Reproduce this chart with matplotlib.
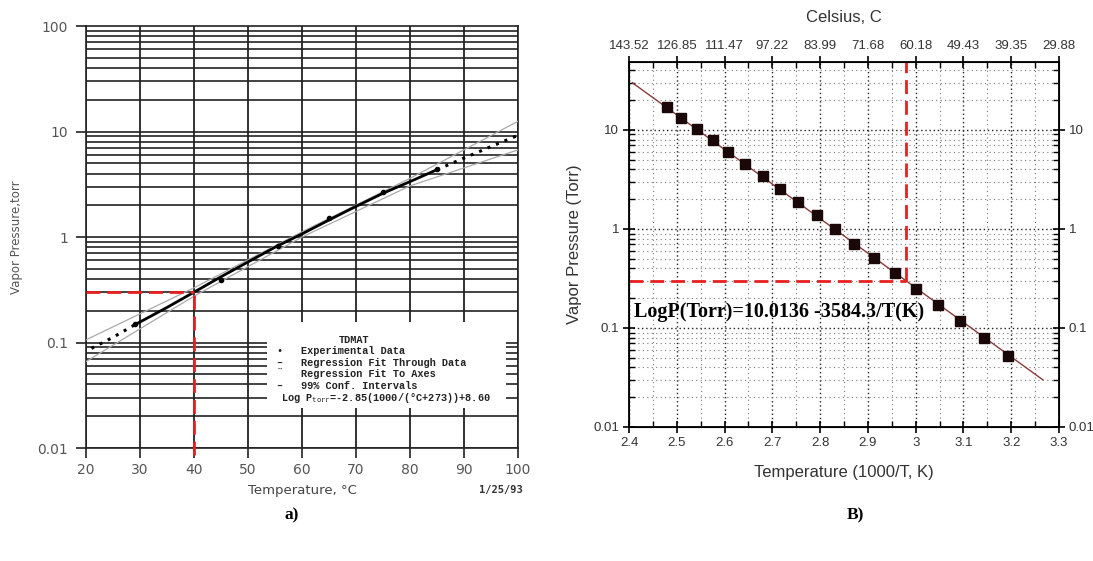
import numpy as np
import matplotlib
matplotlib.use('Agg')
from matplotlib import pyplot as plt
from matplotlib.patches import Rectangle
from matplotlib.ticker import MultipleLocator, LogLocator, NullFormatter, FixedLocator

# ---- панель a): данные ----
t_fit = [29, 35, 40, 45, 50, 55, 60, 65, 70, 75, 80, 85]
p_fit = [0.147, 0.215, 0.30, 0.42, 0.58, 0.80, 1.07, 1.45, 1.95, 2.6, 3.35, 4.35]
t_ext_lo = [21, 25, 29]
p_ext_lo = [0.088, 0.112, 0.147]
t_ext_hi = [85, 90, 95, 100]
p_ext_hi = [4.35, 5.6, 7.2, 9.2]
t_conf = [20, 40, 60, 80, 100]
p_conf_up = [0.106, 0.33, 1.12, 3.6, 12.5]
p_conf_lo = [0.066, 0.275, 1.0, 3.05, 6.7]
t_exp = [29, 45, 55.5, 65, 75, 85]
p_exp = [0.15, 0.39, 0.83, 1.52, 2.65, 4.4]
left_xticks = [20, 30, 40, 50, 60, 70, 80, 90, 100]
left_yticks = [0.01, 0.1, 1, 10, 100]
left_ylabels = ['0.01', '0.1', '1', '10', '100']
legend_rows = ['Experimental Data', 'Regression Fit Through Data',
               'Regression Fit To Axes', '99% Conf. Intervals']
legend_syms = ['•', '–', '¨', '–']

# ---- панель B) ----
inv_t = [2.479, 2.509, 2.543, 2.576, 2.608, 2.643, 2.680, 2.716, 2.753, 2.793,
         2.831, 2.871, 2.913, 2.956, 3.001, 3.047, 3.093, 3.142, 3.193]
p_torr = [17.2, 13.2, 10.2, 7.9, 6.0, 4.5, 3.4, 2.54, 1.89, 1.37,
          0.99, 0.70, 0.51, 0.356, 0.249, 0.171, 0.117, 0.0787, 0.0526]
line_x = [2.407, 3.266]
line_y = [30.0, 0.030]
right_xticks = [2.4, 2.5, 2.6, 2.7, 2.8, 2.9, 3.0, 3.1, 3.2, 3.3]
right_xlabels = ['2.4', '2.5', '2.6', '2.7', '2.8', '2.9', '3', '3.1', '3.2', '3.3']
celsius_labels = ['143.52', '126.85', '111.47', '97.22', '83.99', '71.68',
                  '60.18', '49.43', '39.35', '29.88']
right_yticks = [0.01, 0.1, 1, 10]
right_ylabels = ['0.01', '0.1', '1', '10']

red = '#e82020'
fig = plt.figure(figsize=(10.93, 5.61), dpi=100)

# =================== a) ===================
ax = fig.add_axes([0.0787, 0.2014, 0.3952, 0.7522])
ax.set_yscale('log')
ax.set_xlim(20, 100)
ax.set_ylim(0.01, 100)

# сетка как на миллиметровке
for d in [0.01, 0.1, 1, 10]:
    for k in range(1, 10):
        ax.axhline(k * d, color='#222222', lw=1.2, zorder=1)
for xv in left_xticks:
    ax.axvline(xv, color='#222222', lw=1.3, zorder=1)

# белое поле под легенду
ax.add_patch(Rectangle((53.5, 0.024), 44.2, 0.155 - 0.024, facecolor='white',
                       edgecolor='none', zorder=2))

ax.plot(t_conf, p_conf_up, color='#aaaaaa', lw=0.9, zorder=3)
ax.plot(t_conf, p_conf_lo, color='#aaaaaa', lw=0.9, zorder=3)
ax.plot(t_fit, p_fit, color='black', lw=2.0, zorder=4)
ax.plot(t_ext_lo, p_ext_lo, color='black', lw=2.2, ls=(0, (1, 2)), zorder=4)
ax.plot(t_ext_hi, p_ext_hi, color='black', lw=2.2, ls=(0, (1, 2)), zorder=4)
ax.plot(t_exp, p_exp, 'o', color='black', ms=3, zorder=5)

ax.plot([20, 40], [0.3, 0.3], color=red, lw=2, ls=(0, (5, 2.5)), zorder=6)
ax.plot([40, 40], [0.0085, 0.3], color=red, lw=2, ls=(0, (5, 2.5)), zorder=6,
        clip_on=False)

for s in ax.spines.values():
    s.set_color('#222222')
    s.set_linewidth(1.2)
ax.set_xticks(left_xticks)
ax.set_xticklabels([str(v) for v in left_xticks])
ax.set_yticks(left_yticks)
ax.set_yticklabels(left_ylabels)
ax.yaxis.set_minor_formatter(NullFormatter())
ax.tick_params(which='minor', length=0)
ax.tick_params(axis='both', which='major', length=7, width=1.2, color='#222222',
               labelsize=10, labelcolor='#555555')
ax.tick_params(axis='y', pad=6)
ax.tick_params(axis='x', pad=4)
ax.set_ylabel('Vapor Pressure,torr', fontsize=8.5, color='#555555', labelpad=10)
ax.set_xlabel('Temperature, °C', fontsize=9.5, color='#444444', labelpad=5)
ax.text(1.012, -0.10, '1/25/93', transform=ax.transAxes, ha='right', va='center',
        fontsize=7.5, family='DejaVu Sans Mono', fontweight='bold', color='#333333')

mono = dict(family='Liberation Mono', fontweight='bold', fontsize=7.4, color='#222222',
            transform=ax.transAxes, va='center', zorder=7)
ax.text(0.62, 0.257, 'TDMAT', ha='center', **mono)
row_y = [0.231, 0.202, 0.176, 0.148]
for sym, lab, yy in zip(legend_syms, legend_rows, row_y):
    ax.text(0.44, yy, sym, ha='left', **mono)
    ax.text(0.497, yy, lab, ha='left', **mono)
ax.text(0.451, 0.119, r'Log P$_{\mathtt{torr}}$=-2.85(1000/(°C+273))+8.60', ha='left', **mono)

# =================== B) ===================
bx = fig.add_axes([0.5755, 0.2389, 0.3934, 0.6506])
bx.set_yscale('log')
bx.set_xlim(2.4, 3.3)
bx.set_ylim(0.01, 48.6)
bx.xaxis.set_major_locator(FixedLocator(right_xticks))
bx.xaxis.set_minor_locator(MultipleLocator(0.05))
bx.yaxis.set_minor_locator(LogLocator(base=10, subs=np.arange(2, 10)))
bx.yaxis.set_minor_formatter(NullFormatter())
bx.grid(True, which='major', color='#222222', lw=1.0, ls=(0, (1, 2)))
bx.grid(True, which='minor', color='#777777', lw=0.8, ls=(0, (1, 3)))
bx.set_axisbelow(True)

bx.plot(line_x, line_y, color='#8b3a3a', lw=1.0, zorder=3)
bx.plot(inv_t, p_torr, 's', color='#1a0808', ms=6.5, zorder=4)
bx.plot([2.4, 2.98], [0.3, 0.3], color=red, lw=2, ls=(0, (5, 2.5)), zorder=5)
bx.plot([2.98, 2.98], [0.3, 48.6], color=red, lw=2, ls=(0, (5, 2.5)), zorder=5)
bx.text(2.41, 0.13, 'LogP(Torr)=10.0136 -3584.3/T(K)', family='Liberation Serif',
        fontweight='bold', fontsize=14.5, va='baseline', ha='left', zorder=6)

bx.set_xticks(right_xticks)
bx.set_xticklabels(right_xlabels)
bx.set_yticks(right_yticks)
bx.set_yticklabels(right_ylabels)
for s in bx.spines.values():
    s.set_linewidth(1.3)
bx.tick_params(which='major', direction='inout', length=8, width=1.2,
               labelsize=9.5, labelcolor='#333333', right=True)
bx.tick_params(which='minor', direction='in', length=4, width=1.0, right=True)
bx.tick_params(axis='y', labelright=True, pad=3)
for lbl in bx.get_xticklabels() + bx.get_yticklabels():
    lbl.set_family('Liberation Sans')
bx.set_xlabel('Temperature (1000/T, K)', fontsize=12, family='Liberation Sans',
              color='#333333', labelpad=11)
bx.set_ylabel('Vapor Pressure (Torr)', fontsize=12, family='Liberation Sans',
              color='#333333', labelpad=8)

tx = bx.twiny()
tx.set_xlim(bx.get_xlim())
tx.set_xticks(right_xticks)
tx.set_xticklabels(celsius_labels, family='Liberation Sans')
tx.xaxis.set_minor_locator(MultipleLocator(0.05))
tx.tick_params(which='major', direction='inout', length=8, width=1.2,
               labelsize=9.5, labelcolor='#333333')
tx.tick_params(which='minor', direction='in', length=4, width=1.0)
tx.set_xlabel('Celsius, C', fontsize=12, family='Liberation Sans', color='#333333',
              labelpad=13)

fig.text(292 / 1093, 1 - 515 / 561, 'a)', family='Liberation Serif', fontweight='bold',
         fontsize=12.5, ha='center', va='center')
fig.text(855 / 1093, 1 - 515 / 561, 'B)', family='Liberation Serif', fontweight='bold',
         fontsize=12.5, ha='center', va='center')

fig.savefig('out.png', dpi=100)
plt.close(fig)
